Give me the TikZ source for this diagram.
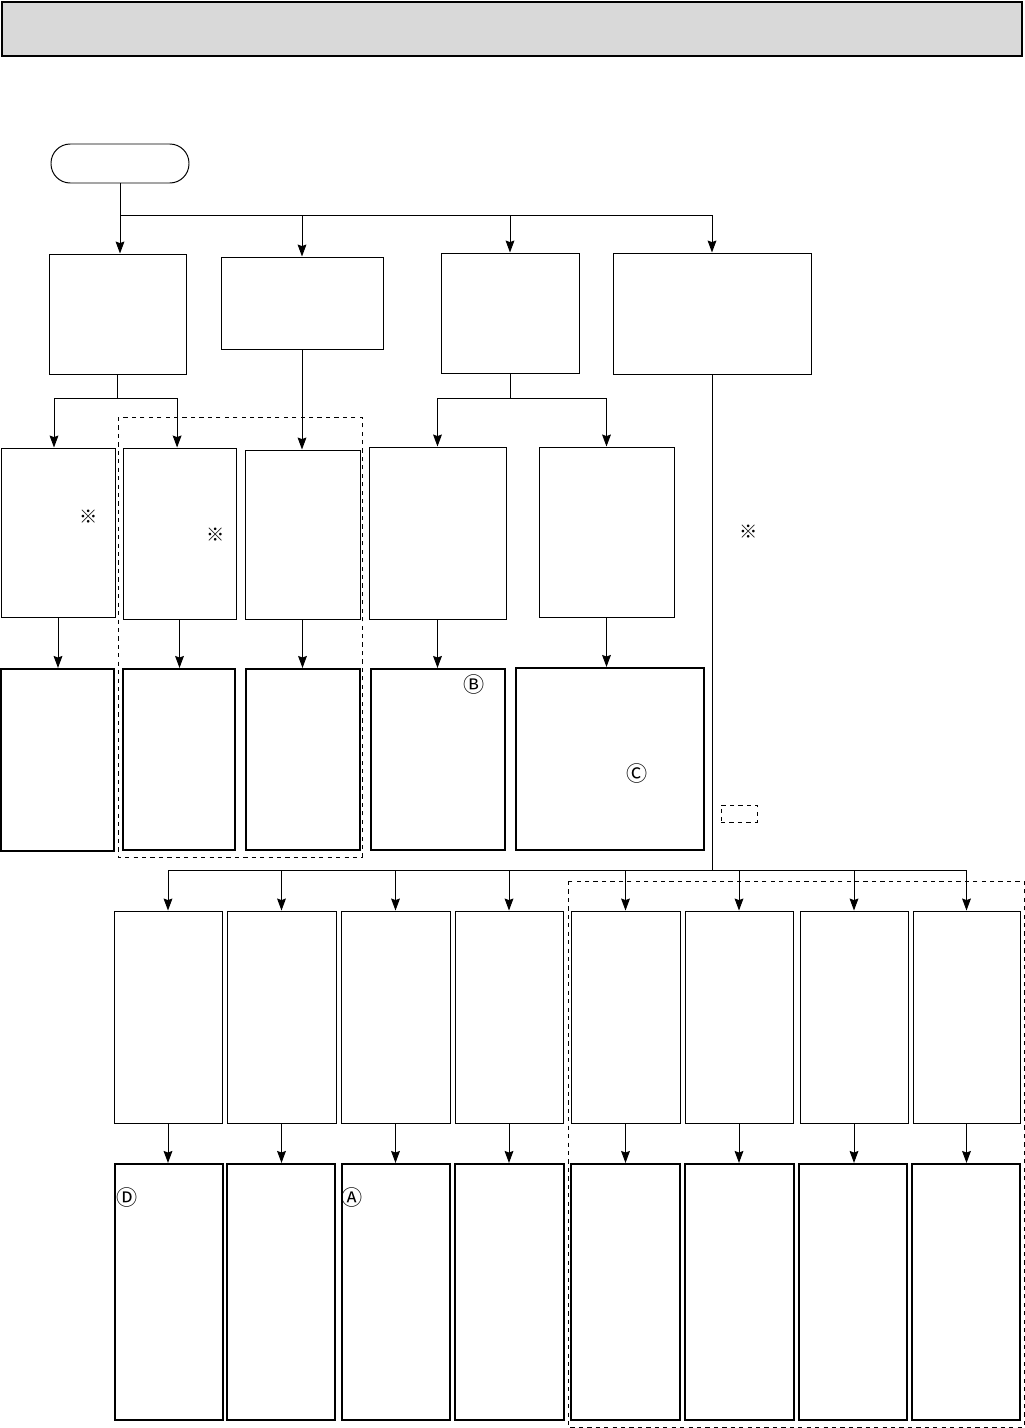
\documentclass[tikz,border=0pt]{standalone}
\usepackage{fontspec}
\newfontfamily\cjk{Noto Sans CJK JP}
\usetikzlibrary{arrows.meta,fit}
\begin{document}
\begin{tikzpicture}[x=0.025cm, y=-0.025cm,
    box/.style={draw, line width=0.7pt, inner sep=0pt},
    resbox/.style={draw, line width=1.5pt, inner sep=0pt},
    grp/.style={draw, dashed, line width=0.7pt, inner sep=0pt},
    line/.style={line width=0.7pt},
    arr/.style={line width=0.7pt, -{Stealth[length=0.3cm, width=0.22cm, inset=0.04cm]}},
    symb/.style={font=\cjk\fontsize{13}{15}\selectfont, inner sep=0pt},
    circ/.style={font=\cjk\fontsize{15}{17}\selectfont, inner sep=0pt}]
    \useasboundingbox (0,0) rectangle (1025,1428);

    % ===== 顶部标题栏 =====
    \node[draw, line width=1.2pt, fill=black!15, inner sep=0pt, fit={(2,2) (1022,56)}] (header) {};

    % ===== 起点 =====
    \node[box, rounded corners=0.48cm, fit={(51,144) (189,183)}] (start) {};

    % 第一层
    \node[box, fit={(49,254) (186,374)}] (q1) {};
    \node[box, fit={(221,257) (383,349)}] (q2) {};
    \node[box, fit={(441,253) (579,373)}] (q3) {};
    \node[box, fit={(613,253) (811,374)}] (q4) {};

    % 第二层
    \node[box, fit={(1,448) (115,617)}] (p1) {};
    \node[box, fit={(123,448) (236,619)}] (p2) {};
    \node[box, fit={(245,450) (360,619)}] (p3) {};
    \node[box, fit={(369,447) (506,619)}] (p4) {};
    \node[box, fit={(539,447) (674,617)}] (p5) {};

    % 第三层 (粗框)
    \node[resbox, fit={(1,669) (114,851)}] (r1) {};
    \node[resbox, fit={(123,669) (235,850)}] (r2) {};
    \node[resbox, fit={(246,669) (360,850)}] (r3) {};
    \node[resbox, fit={(371,669) (505,850)}] (r4) {};
    \node[resbox, fit={(516,668) (704,850)}] (r5) {};

    % ===== 下半部分 =====
    \foreach \n/\a/\b in {1/114/222, 2/227/336, 3/341/450, 4/455/563,
                          5/571/680, 6/685/793, 7/800/908, 8/913/1020} {
        \node[box, fit={(\a,911) (\b,1123)}] (s\n) {};
    }
    \foreach \n/\a/\b in {1/115/223, 2/227/335, 3/342/450, 4/455/564,
                          5/571/680, 6/685/794, 7/799/907, 8/912/1020} {
        \node[resbox, fit={(\a,1164) (\b,1420)}] (t\n) {};
    }

    % 连线
    \path (start.south) ++(0,32) coordinate (bus1);
    \draw[line] (start.south) -- (bus1);
    \draw[arr] (bus1) -- (bus1 |- q1.north);
    \foreach \q in {q2,q3,q4} {
        \draw[arr] (bus1) -| (\q);
    }

    \path (q1.south) ++(0,24) coordinate (br1);
    \draw[line] (q1.south) -- (br1);
    \draw[arr] (br1) -| ([xshift=-0.1cm]p1.north);
    \draw[arr] (br1) -| ([xshift=-0.06cm]p2.north);
    \draw[arr] (q2.south) -- (q2.south |- p3.north);

    \path (q3.south) ++(0,25) coordinate (br3);
    \draw[line] (q3.south) -- (br3);
    \draw[arr] (br3) -| (p4);
    \draw[arr] (br3) -| (p5);

    \foreach \n in {1,...,5} {
        \draw[arr] (p\n.south) -- (p\n.south |- r\n.north);
    }

    \path (q4.south) ++(0,496) coordinate (bus2);
    \draw[line] (q4.south) -- (bus2);
    \foreach \n in {1,...,8} {
        \draw[arr] (bus2) -| (s\n);
        \draw[arr] (s\n.south) -- (s\n.south |- t\n.north);
    }

    % 虚线分组
    \draw[grp] (118,417) rectangle (362,857);
    \draw[grp] (568,881) rectangle (1024,1427);
    \node[grp, fit={(721,805) (757,822)}] (legend) {};

    % 符号
    \node[symb] (note1) at (89,517) {※};
    \node[symb] (note2) at (216,535) {※};
    \node[symb] (note3) at (749,532) {※};
    \node[circ] (markB) at (474,684) {Ⓑ};
    \node[circ] (markC) at (637,773) {Ⓒ};
    \node[circ] (markD) at (127,1197) {Ⓓ};
    \node[circ] (markA) at (352,1197) {Ⓐ};
\end{tikzpicture}
\end{document}
